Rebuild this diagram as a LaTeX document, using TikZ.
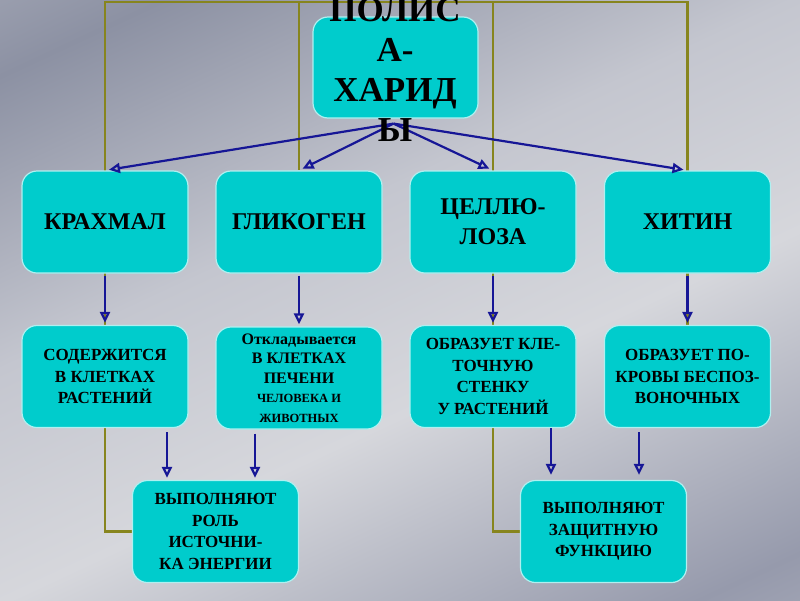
\documentclass[tikz,border=0pt]{standalone}
\usepackage{fontspec}
\setmainfont{Liberation Serif}
\usepackage{tikz}
\usetikzlibrary{arrows.meta,calc,backgrounds}
\definecolor{boxcyan}{RGB}{0,204,204}
\definecolor{boxedge}{RGB}{175,240,240}
\definecolor{arrblue}{RGB}{22,22,150}
\definecolor{frameol}{RGB}{135,133,30}
\definecolor{bgA}{RGB}{196,198,207}
\definecolor{bgB}{RGB}{150,154,172}
\definecolor{bgC}{RGB}{214,215,220}
\definecolor{bgD}{RGB}{140,145,163}
\pgfdeclarehorizontalshading{silver}{100bp}{color(0bp)=(bgA); color(20bp)=(bgB);
  color(42bp)=(bgC); color(58bp)=(bgA); color(78bp)=(bgD); color(100bp)=(bgA)}

\begin{document}
\begin{tikzpicture}[x=1pt,y=-1pt,
  box/.style={draw=boxedge,line width=1.2pt,fill=boxcyan,rounded corners=15pt,
              minimum width=166pt,minimum height=102pt,align=center,inner sep=2pt},
  big/.style={font=\fontsize{24}{30}\selectfont\bfseries},
  small/.style={font=\fontsize{17}{21.5}\selectfont\bfseries},
  arr/.style={-{Triangle[open,length=11pt,width=10pt]},line width=2.2pt,arrblue},
  frame/.style={line width=2.4pt,frameol}
]
\useasboundingbox (0,0) rectangle (800,600);

%--- top node ---
\node[box,minimum width=165pt,minimum height=101pt] (poly) at (395.5,67.5) {};
\coordinate (hub) at ($(poly.south)+(-2,5)$);
\coordinate (top) at (0,2);

%--- first row: the four polysaccharides ---
\node[box,big] (starch) at (105,222) {КРАХМАЛ};
\node[box,big] (glyc)   at (299,222) {ГЛИКОГЕН};
\node[box,big] (cell)   at (493,222) {ЦЕЛЛЮ-\\ЛОЗА};
\node[box,big] (chit)   at (687.5,222) {ХИТИН};

%--- second row: where they are ---
\node[box,small] (plant) at (105,376.5) {СОДЕРЖИТСЯ\\В КЛЕТКАХ\\РАСТЕНИЙ};
\node[box,font=\fontsize{16}{19.5}\selectfont\bfseries] (liver) at (299,378)
  {Откладывается\\В КЛЕТКАХ\\ПЕЧЕНИ\\{\fontsize{12.5}{15}\selectfont ЧЕЛОВЕКА И}\\{\fontsize{12.5}{15}\selectfont ЖИВОТНЫХ}};
\node[box,small] (wall)  at (493,376.5) {ОБРАЗУЕТ КЛЕ-\\ТОЧНУЮ\\СТЕНКУ\\У РАСТЕНИЙ};
\node[box,small] (cover) at (687.5,376.5) {ОБРАЗУЕТ ПО-\\КРОВЫ БЕСПОЗ-\\ВОНОЧНЫХ};

%--- bottom row: functions ---
\node[box,small] (energy) at (215.5,531.5) {ВЫПОЛНЯЮТ\\РОЛЬ\\ИСТОЧНИ-\\КА ЭНЕРГИИ};
\node[box,small] (guard)  at (603.5,531.5) {ВЫПОЛНЯЮТ\\ЗАЩИТНУЮ\\ФУНКЦИЮ};

%--- background and olive frame ---
\begin{scope}[on background layer]
  \shade[shading=silver,shading angle=115] (0,0) rectangle (800,600);
  \draw[frame] (energy.west) -| (top -| starch) -| (cover.north);
  \draw[frame] (top -| glyc) -- (glyc.north);
  \draw[frame] (top -| cell) |- (guard.west);
\end{scope}

%--- arrows from the top node ---
\foreach \t in {starch,glyc,cell,chit}
  \draw[arr,shorten >=4pt] (hub) -- (\t.north);

%--- arrows down to the second row ---
\foreach \a/\b in {starch/plant,glyc/liver,cell/wall,chit/cover}
  \draw[arr,shorten <=2pt,shorten >=2pt] (\a.south) -- (\b.north);

%--- arrows down to the functions ---
\draw[arr,shorten <=4pt,shorten >=2pt] ([xshift=62pt]plant.south) -- ([xshift=-48.5pt]energy.north);
\draw[arr,shorten <=4pt,shorten >=2pt] ([xshift=-44pt]liver.south) -- ([xshift=39.5pt]energy.north);
\draw[arr,shorten >=5pt] ([xshift=58pt]wall.south) -- ([xshift=-52.5pt]guard.north);
\draw[arr,shorten <=4pt,shorten >=5pt] ([xshift=-48.5pt]cover.south) -- ([xshift=35.5pt]guard.north);

%--- title text, running out of its box ---
\node[align=center,font=\fontsize{35}{40}\selectfont\bfseries] (polyt) at (395,70)
  {ПОЛИС\\А-\\ХАРИД\\Ы};
\end{tikzpicture}
\end{document}
